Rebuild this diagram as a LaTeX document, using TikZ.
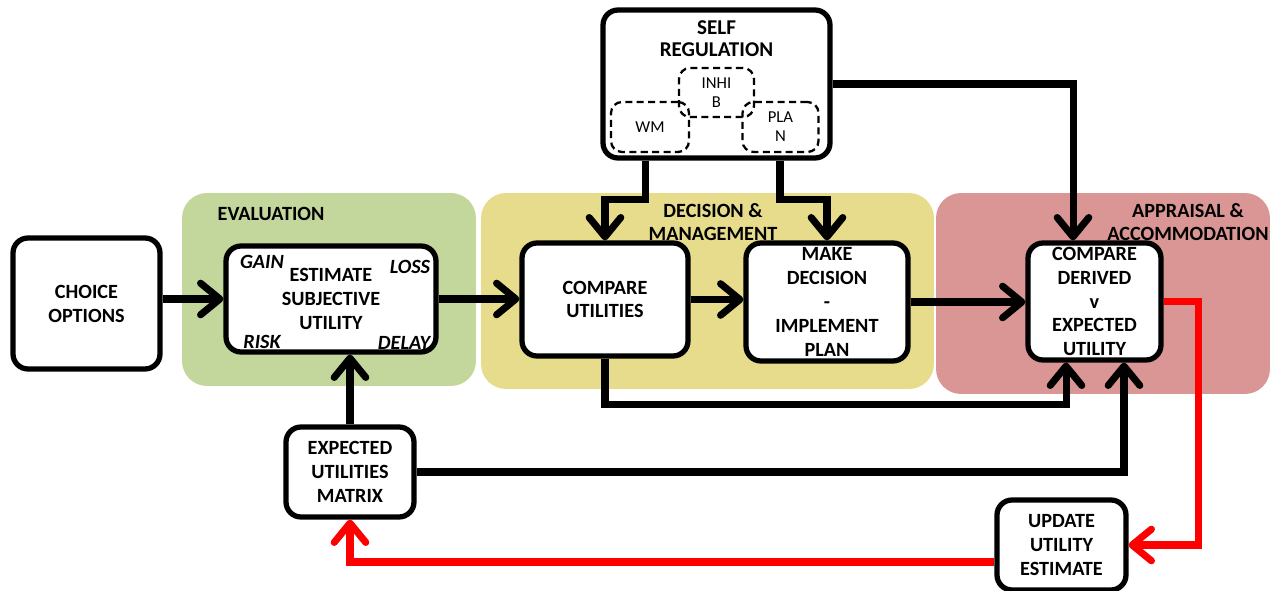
\documentclass[tikz,border=0pt]{standalone}
\usepackage{fontspec}
\setmainfont{Carlito}
\usepackage{tikz}
\usetikzlibrary{arrows.meta,positioning}

\definecolor{evalgreen}{HTML}{C3D69B}
\definecolor{decyellow}{HTML}{E6DC8C}
\definecolor{apppink}{HTML}{D99694}

\begin{document}
\begin{tikzpicture}[
    x=0.02cm, y=-0.02cm,
    panel/.style={fill=#1, rounded corners=0.5cm, inner sep=0pt},
    box/.style={draw, fill=white, line width=3pt, rounded corners=0.3cm, align=center,
        inner sep=1pt, font=\fontsize{11.5}{13.6}\selectfont\bfseries},
    dashbox/.style={draw, line width=1.3pt, dash pattern=on 4pt off 2.5pt, rounded corners=0.22cm,
        align=center, inner sep=1pt, font=\fontsize{9.5}{10.8}\selectfont},
    title/.style={align=center, inner sep=0pt, font=\fontsize{11.5}{13.2}\selectfont\bfseries},
    tag/.style={inner sep=0pt, font=\fontsize{11.5}{13.6}\selectfont\bfseries\itshape},
    flow/.style={-{Straight Barb[length=11pt,width=18pt,round]}, line width=4pt},
    redflow/.style={flow, red}
]
\useasboundingbox (0,0) rectangle (1272,591);

\node[panel=evalgreen, minimum width=5.88cm, minimum height=3.86cm] (evalpanel) at (329,289.5) {};
\node[panel=decyellow, minimum width=9.06cm, minimum height=3.92cm] (decpanel) at (707.5,291) {};
\node[panel=apppink, minimum width=6.68cm, minimum height=4.02cm] (apppanel) at (1103,293.5) {};

\node[title] (evaltitle) at (271,214) {EVALUATION};
\node[title] (dectitle) at (713,222) {DECISION \&\\MANAGEMENT};
\node[title] (apptitle) at (1188,222) {APPRAISAL \&\\ACCOMMODATION};

\node[box, minimum width=2.94cm, minimum height=2.62cm] (choice) at (86.5,303.5) {CHOICE\\OPTIONS};
\node[box, minimum width=4.2cm, minimum height=2.12cm] (estimate) at (331,299) {ESTIMATE\\SUBJECTIVE\\UTILITY};
\node[tag] (gain) at (262,262) {GAIN};
\node[tag] (loss) at (410,267) {LOSS};
\node[tag] (risk) at (262,342) {RISK};
\node[tag] (delay) at (404,343) {DELAY};

\node[box, minimum width=3.32cm, minimum height=2.26cm] (cmpu) at (605,299.5) {COMPARE\\UTILITIES};
\node[box, minimum width=3.24cm, minimum height=2.36cm] (make) at (827,302) {MAKE\\DECISION\\-\\IMPLEMENT\\PLAN};
\node[box, minimum width=2.66cm, minimum height=2.34cm] (cmpd) at (1094.5,301.5) {COMPARE\\DERIVED\\v\\EXPECTED\\UTILITY};

\node[box, minimum width=4.54cm, minimum height=2.96cm] (selfreg) at (716.5,84) {};
\node[title, font=\fontsize{12}{12.6}\selectfont\bfseries] (selfregtxt) at (716.5,39) {SELF\\REGULATION};
\node[dashbox, minimum width=1.5cm, minimum height=0.98cm] (inhib) at (716.5,92.5) {INHI\\B};
\node[dashbox, minimum width=1.56cm, minimum height=1.0cm] (wm) at (650,127) {WM};
\node[dashbox, minimum width=1.52cm, minimum height=1.0cm] (plan) at (780.5,127) {PLA\\N};

\node[box, minimum width=2.56cm, minimum height=1.8cm] (matrix) at (350,472) {EXPECTED\\UTILITIES\\MATRIX};
\node[box, minimum width=2.58cm, minimum height=1.8cm] (update) at (1061.5,545) {UPDATE\\UTILITY\\ESTIMATE};

\draw[flow] (choice.east |- estimate.west) -- (estimate.west);
\draw[flow] (estimate.east) -- (estimate.east -| cmpu.west);
\draw[flow] (cmpu.east) -- (cmpu.east -| make.west);
\draw[flow] (make.east) -- (make.east -| cmpd.west);

\draw[flow] ([xshift=-1.43cm]selfreg.south) -- ++(0,-0.78cm) -| (cmpu.north);
\draw[flow] ([xshift=1.27cm]selfreg.south) -- ++(0,-0.78cm) -| (make.north);
\draw[flow] (selfreg.east) -| ([xshift=-0.43cm]cmpd.north);

\draw[flow] (cmpu.south) -- ++(0,-0.92cm) -| ([xshift=-0.57cm]cmpd.south);
\draw[flow] (matrix.east) -| ([xshift=0.59cm]cmpd.south);
\draw[flow] (matrix.north) -- (matrix.north |- estimate.south);

\draw[redflow] (cmpd.east) -- ++(0.7cm,0) |- (update.east);
\draw[redflow] ([yshift=-0.34cm]update.west) -| (matrix.south);
\end{tikzpicture}
\end{document}
